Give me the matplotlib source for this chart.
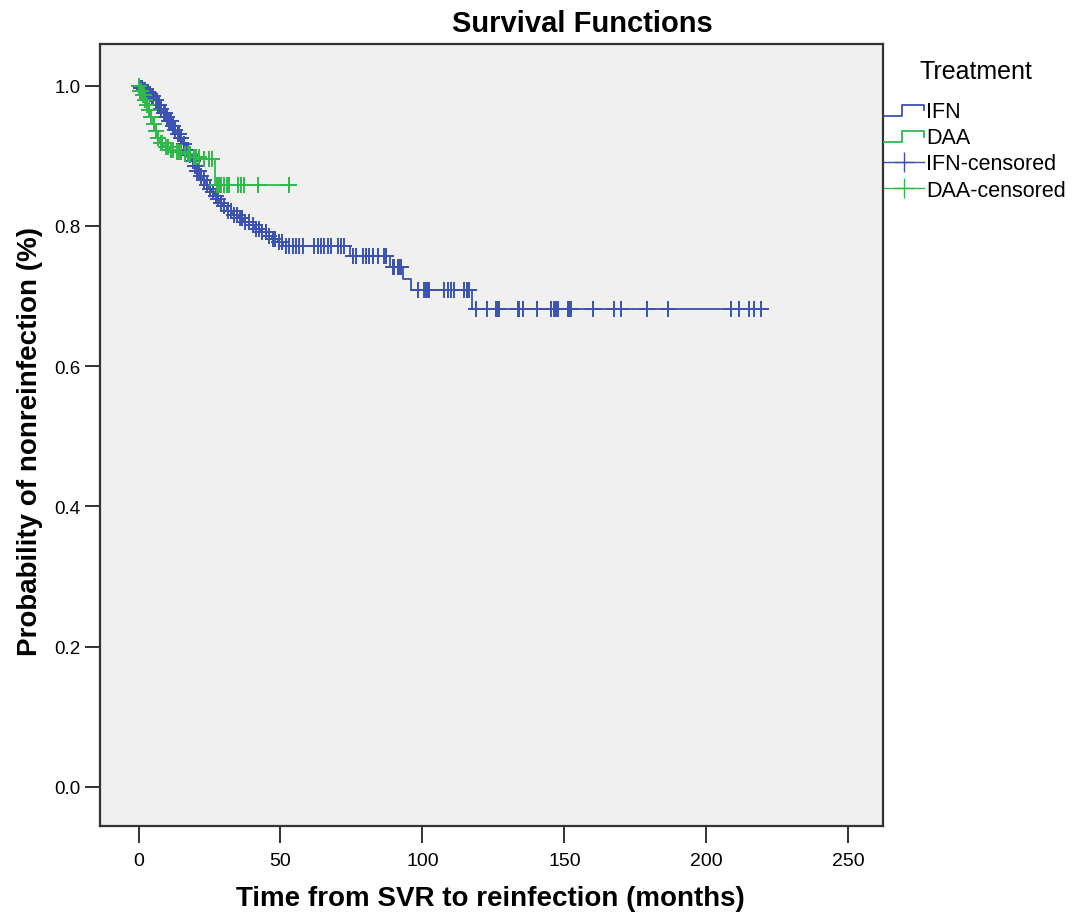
import numpy as np
import matplotlib.pyplot as plt
from matplotlib.lines import Line2D
from matplotlib.legend_handler import HandlerBase

# Kaplan-Meier steps: event time (months) and survival after the drop
ifn_times = [0.5, 1.5, 2.5, 3.5, 4.5, 5.5, 6.5, 7.5, 8.5, 9.5, 10.5, 11.5, 12.5, 13.5, 14.5,
             15.5, 16.5, 17.5, 18.5, 19.5, 20.5, 21.5, 22.5, 23.5, 24.5, 25.5, 26.5, 27.5,
             28.5, 29.5, 31, 33, 35, 37, 39, 41, 43, 45, 47, 49, 51, 74.5, 88.5, 93, 96, 117.5]
ifn_surv = [0.997, 0.994, 0.991, 0.988, 0.985, 0.979, 0.973, 0.967, 0.961, 0.955, 0.949,
            0.943, 0.937, 0.931, 0.925, 0.917, 0.909, 0.901, 0.893, 0.885, 0.878, 0.871,
            0.865, 0.859, 0.853, 0.848, 0.843, 0.838, 0.833, 0.828, 0.822, 0.816, 0.811,
            0.806, 0.801, 0.796, 0.791, 0.786, 0.781, 0.777, 0.771, 0.757, 0.741, 0.725,
            0.708, 0.682]
ifn_censored = [0.3, 0.8, 1.2, 1.8, 2.2, 2.9, 3.3, 4.1, 4.8, 5.2, 6.0, 6.8, 7.2, 8.0, 8.8,
                9.3, 10.1, 10.8, 11.4, 12.2, 13.0, 13.8, 14.3, 15.1, 16.0, 16.8, 17.4, 18.2,
                19.0, 19.8, 20.6, 21.2, 22.0, 23.1, 24.0, 25.0, 26.1, 27.2, 28.0, 29.1, 30.2,
                31.5, 32.4, 33.6, 34.5, 35.8, 36.5, 37.6, 38.8, 40.2, 41.5, 42.3, 43.6, 44.8,
                46.1, 47.3, 48.2, 49.5, 50.4, 52.1, 53.0, 54.3, 55.4, 56.4, 57.8, 61.7, 63.1,
                64.2, 65.2, 66.6, 67.7, 70.2, 71.3, 72.3, 75.5, 76.5, 79, 80, 81.1, 82.5, 84.3,
                86.4, 87.1, 89.6, 90, 91.3, 91.7, 92.4, 98.4, 100.5, 101.2, 101.8, 102.3, 107.5,
                109, 110, 111, 114.6, 115.6, 116.4, 118.8, 122.7, 125.9, 126.6, 126.9, 133.7,
                134.0, 135.4, 140.3, 145.3, 146.3, 147.0, 147.7, 151.3, 151.6, 152.3, 160.1,
                167.5, 169.9, 179.1, 186.5, 208.7, 211.5, 215.1, 216.8, 219.3]

daa_times = [0.5, 1.2, 2.0, 2.8, 3.5, 4.2, 5.0, 5.8, 6.5, 7.5, 9, 11, 13, 16, 19, 22, 27]
daa_surv = [0.993, 0.987, 0.98, 0.973, 0.965, 0.955, 0.945, 0.935, 0.926, 0.918, 0.912,
            0.908, 0.905, 0.902, 0.899, 0.895, 0.858]
daa_censored = [0.2, 0.6, 1.0, 1.4, 1.9, 2.4, 3.1, 3.8, 4.5, 5.3, 6.2, 6.9, 7.8, 8.4, 9.5,
                10.2, 11.5, 12.3, 13.5, 14.2, 15.0, 16.5, 17.3, 18.2, 19.4, 20.3, 21.2, 23,
                24.7, 26, 27.5, 28.2, 29, 30, 31, 32, 35, 36, 37, 42, 53]

groups = ['IFN', 'DAA']
colors = {'IFN': '#3b52b0', 'DAA': '#2fb84b'}

plt.rcParams['font.family'] = ['Liberation Sans', 'DejaVu Sans']


def km_steps(times, surv, end):
    x = np.concatenate([[0], times, [end]])
    y = np.concatenate([[1.0], surv, [surv[-1]]])
    return x, y


def surv_at(times, surv, t):
    idx = np.searchsorted(times, t, side='right')
    s = np.concatenate([[1.0], surv])
    return s[idx]


class StepHandler(HandlerBase):
    def create_artists(self, legend, orig_handle, xdescent, ydescent, width, height,
                       fontsize, trans):
        x0 = -xdescent
        lo = -ydescent + height * 0.1
        hi = -ydescent + height * 0.8
        xs = [x0, x0 + width * 0.45, x0 + width * 0.45, x0 + width, x0 + width]
        ys = [lo, lo, hi, hi, -ydescent + height * 0.45]
        ln = Line2D(xs, ys, color=orig_handle.get_color(), lw=1.3, transform=trans)
        return [ln]


fig = plt.figure(figsize=(10.74, 9.2), dpi=100)
ax = fig.add_axes([0.0931, 0.1011, 0.8222 - 0.0931, 0.9511 - 0.1011])
ax.set_facecolor('#f0f0f0')

data = {
    'IFN': (ifn_times, ifn_surv, ifn_censored),
    'DAA': (daa_times, daa_surv, daa_censored),
}
for g in groups:
    t, s, c = data[g]
    t = np.array(t)
    s = np.array(s)
    c = np.array(c)
    x, y = km_steps(t, s, c.max())
    ax.step(x, y, where='post', color=colors[g], lw=1.3, zorder=3)
    ax.plot(c, surv_at(t, s, c), ls='none', marker='+', ms=11, mew=1.4,
            color=colors[g], zorder=4)

step_handles = [Line2D([], [], color=colors[g]) for g in groups]
cens_handles = [Line2D([], [], color=colors[g], marker='+', ms=15, mew=1.0, lw=1.0)
                for g in groups]
handles = step_handles + cens_handles
labels = groups + [g + '-censored' for g in groups]

ax.set_xlim(-13.6, 262.3)
ax.set_ylim(-0.0556, 1.0595)
ax.set_xticks([0, 50, 100, 150, 200, 250])
ax.set_yticks([0.0, 0.2, 0.4, 0.6, 0.8, 1.0])
ax.set_yticklabels(['0.0', '0.2', '0.4', '0.6', '0.8', '1.0'])
ax.tick_params(direction='out', width=1.3, color='#222222')
ax.tick_params(axis='y', length=11, pad=3, labelsize=13.5)
ax.tick_params(axis='x', length=12, pad=7, labelsize=14)
for sp in ax.spines.values():
    sp.set_color('#333333')
    sp.set_linewidth(1.6)

fig.text(0.542, 0.974, 'Survival Functions', ha='center', va='center',
         fontsize=21, fontweight='bold')
fig.text(0.457, 0.023, 'Time from SVR to reinfection (months)', ha='center', va='center',
         fontsize=20, fontweight='bold')
fig.text(0.028, 0.52, 'Probability of nonreinfection (%)', ha='center', va='center',
         rotation=90, fontsize=20, fontweight='bold')

fig.text(0.9085, 0.922, 'Treatment', ha='center', va='center', fontsize=18)
leg = fig.legend(handles, labels, loc='upper left', bbox_to_anchor=(0.8235, 0.889),
                 frameon=False, fontsize=15.5, handlelength=1.85, handletextpad=0.1,
                 labelspacing=0.24, borderpad=0, borderaxespad=0,
                 handler_map={h: StepHandler() for h in step_handles})

fig.savefig('out.png', dpi=100, facecolor='white')
